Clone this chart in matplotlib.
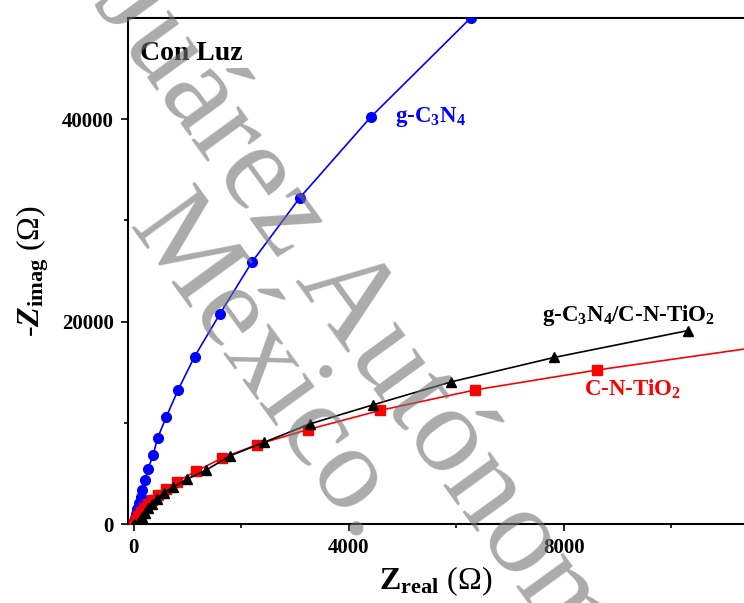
"""
Diagrama de Nyquist (con luz)
"""

import matplotlib
matplotlib.use('Agg')
import matplotlib.pyplot as plt

# Datos de impedancia (Ohm)
gcn_x = [0, 19, 37, 65, 93, 125, 154, 205, 260, 353, 441, 601, 824, 1129, 1600, 2190, 3088, 4404, 6264]
gcn_y = [0, 590, 985, 1480, 2070, 2660, 3350, 4300, 5390, 6770, 8500, 10570, 13270, 16550, 20760, 25840, 32250, 40200, 50000]

cntio2_x = [0, 47, 84, 130, 186, 255, 329, 441, 590, 806, 1153, 1647, 2294, 3237, 4586, 6350, 8623, 11900]
cntio2_y = [0, 394, 788, 1182, 1576, 1970, 2365, 2857, 3448, 4187, 5222, 6522, 7852, 9330, 11232, 13251, 15222, 17700]

comp_x = [0, 69, 112, 154, 205, 255, 329, 422, 558, 731, 990, 1340, 1795, 2424, 3280, 4447, 5898, 7814, 10307]
comp_y = [0, 99, 394, 719, 1113, 1547, 1970, 2463, 3103, 3645, 4433, 5320, 6749, 8079, 9901, 11773, 14039, 16453, 19113]

x_major = [0, 4000, 8000]
x_minor = [2000, 6000, 10000]
y_major = [0, 20000, 40000]
y_minor = [10000, 30000]

plt.rcParams['font.family'] = 'Liberation Serif'
plt.rcParams['font.weight'] = 'bold'
plt.rcParams['mathtext.fontset'] = 'custom'
plt.rcParams['mathtext.rm'] = 'Liberation Serif:bold'
plt.rcParams['mathtext.bf'] = 'Liberation Serif:bold'
plt.rcParams['mathtext.it'] = 'Liberation Serif:italic:bold'

W, H = 744, 603
fig = plt.figure(figsize=(W / 100, H / 100), dpi=100)
ax = fig.add_axes([128 / W, 1 - 524 / H, 1 - 128 / W, (524 - 18) / H])

ax.plot(gcn_x, gcn_y, '-o', color='#0000ff', lw=1.2, ms=7, zorder=3)
ax.plot(cntio2_x, cntio2_y, '-s', color='#ff0000', lw=1.2, ms=6.5, zorder=4)
ax.plot(comp_x, comp_y, '-^', color='black', lw=1.2, ms=7.5, zorder=5)

ax.set_xlim(-110, 11350)
ax.set_ylim(0, 50000)

ax.set_xticks(x_major)
ax.set_xticks(x_minor, minor=True)
ax.set_yticks(y_major)
ax.set_yticks(y_minor, minor=True)
ax.tick_params(which='major', direction='out', length=5, width=1.2, labelsize=15, pad=5)
ax.tick_params(which='minor', direction='out', length=3, width=1.2)
ax.spines['right'].set_visible(False)
for side in ['left', 'bottom', 'top']:
    ax.spines[side].set_linewidth(1.5)

ax.set_xlabel(r'$\mathrm{Z}_{\mathrm{real}}$ (Ω)', fontsize=23, labelpad=5)
ax.set_ylabel(r'-$Z_{\mathrm{imag}}$ (Ω)', fontsize=23, labelpad=8)

# etiquetas de las curvas
ax.text(0.02, 0.955, 'Con Luz', transform=ax.transAxes, fontsize=20, va='top')
ax.text(4850, 39700, r'g-C$_3$N$_4$', color='#0000ff', fontsize=16.5)
ax.text(7590, 20100, r'g-C$_3$N$_4$/C-N-TiO$_2$', color='black', fontsize=16.5)
ax.text(8370, 12700, r'C-N-TiO$_2$', color='#ff0000', fontsize=16.5)

# marca de agua
wm = dict(fontweight='normal', color='0.45', alpha=0.6,
          rotation=-54, rotation_mode='anchor', ha='left', va='baseline', zorder=10)
fig.text(92 / W, 1 - 2 / H, 'Juárez Autónoma', fontsize=90, **wm)
fig.text(127 / W, 1 - 227 / H, 'México.', fontsize=86, **wm)

fig.savefig('out.png', dpi=100)
